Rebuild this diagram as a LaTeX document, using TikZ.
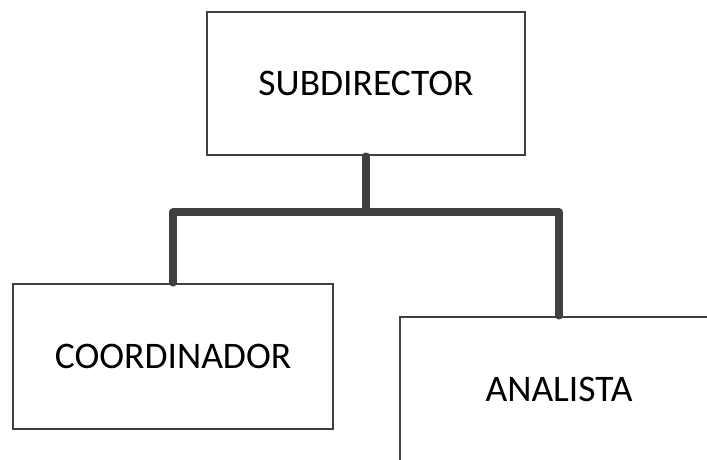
\documentclass[tikz,border=0pt]{standalone}
\usepackage{fontspec}
\setmainfont{Carlito}
\definecolor{linec}{HTML}{404040}
\tikzset{
  box/.style={draw=linec, line width=2.5pt, fill=white, minimum width=318pt, minimum height=143pt, inner sep=0pt, font=\fontsize{37.5}{45}\selectfont, text=black},
  conn/.style={draw=linec, line width=7.5pt, line cap=round, line join=round}
}
\begin{document}
\begin{tikzpicture}[x=1pt,y=-1pt]
\useasboundingbox (0,0) rectangle (707,460);
\clip (0,0) rectangle (707,460);
\fill[white] (0,0) rectangle (707,460);
\node[box] (sub) at (366,83.5) {SUBDIRECTOR};
\node[box, minimum width=320pt, minimum height=145pt] (coord) at (173,356.5) {COORDINADOR};
\node[box, minimum height=145pt] (anal) at (559,389.5) {ANALISTA};
\coordinate (j) at (366,212);
\draw[conn] (sub.south) -- (sub.south |- j);
\draw[conn] (coord.north) -- (coord.north |- j) -- (anal.north |- j) -- (anal.north);
\end{tikzpicture}
\end{document}
